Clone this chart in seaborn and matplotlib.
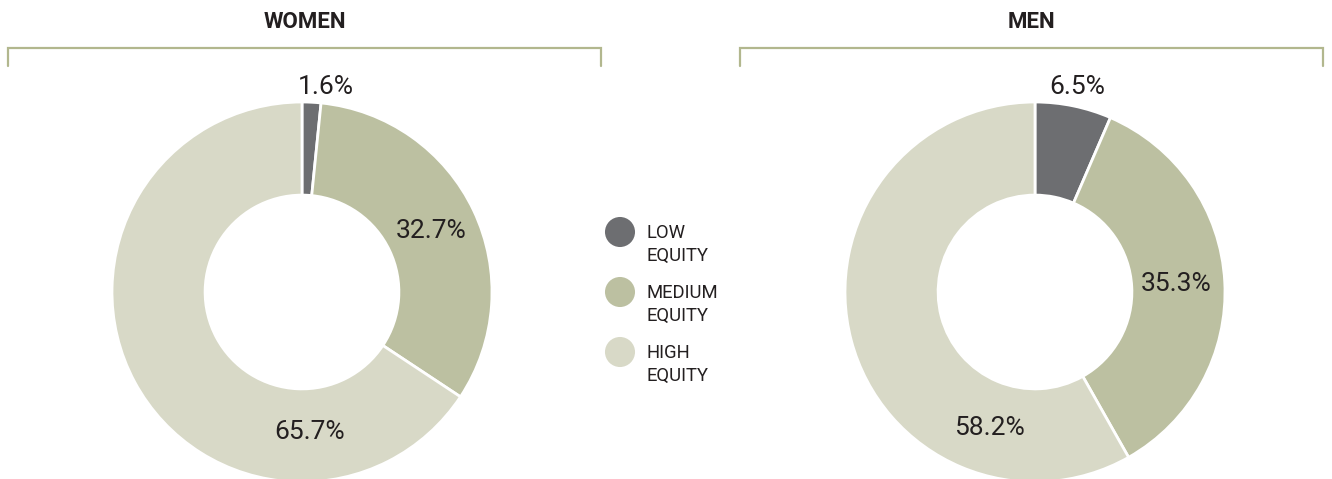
import numpy as np
import seaborn as sns
import matplotlib.pyplot as plt

# Equity shares by group (percent)
CATEGORIES = ["LOW\nEQUITY", "MEDIUM\nEQUITY", "HIGH\nEQUITY"]
GROUPS = ["WOMEN", "MEN"]
WOMEN_VALUES = [1.6, 32.7, 65.7]
MEN_VALUES = [6.5, 35.3, 58.2]
COLORS = ["#6d6e71", "#bcc0a1", "#d8d9c7"]

TEXT_COLOR = "#231f20"
BRACKET_COLOR = "#b2b78e"

if __name__ == "__main__":

    sns.set_theme(style="white")
    plt.rcParams["font.family"] = ["Roboto", "DejaVu Sans"]

    W, H = 1332, 479
    fig = plt.figure(figsize=(W / 100, H / 100), dpi=100)
    palette = sns.color_palette(COLORS)

    # overlay axes in pixel coords (y down) for titles, brackets, legend
    over = fig.add_axes([0, 0, 1, 1])
    over.set_xlim(0, W)
    over.set_ylim(H, 0)
    over.axis("off")

    # pie layout: center x, center y, radius (px), bracket span
    layout = [
        dict(cx=302, cy=292, r=190, bracket=(8, 601)),
        dict(cx=1035, cy=292, r=190, bracket=(740, 1323)),
    ]
    # label placement: (clockwise angle from top in deg or None for mid angle, radius factor)
    label_pos = [
        [(6.7, 1.085), (None, 0.75), (176.7, 0.737)],
        [(None, 1.10), (None, 0.745), (198.7, 0.756)],
    ]

    for group, values, lay, lpos in zip(GROUPS, [WOMEN_VALUES, MEN_VALUES], layout, label_pos):
        cx, cy, r = lay["cx"], lay["cy"], lay["r"]
        ax = fig.add_axes([(cx - r) / W, (H - cy - r) / H, 2 * r / W, 2 * r / H])
        ax.pie(values, colors=palette, startangle=90, counterclock=False,
               wedgeprops=dict(width=0.49, edgecolor="white", linewidth=2))
        ax.set_xlim(-1, 1)
        ax.set_ylim(-1, 1)
        ax.axis("off")

        # percent labels
        cum = np.cumsum([0] + values[:-1])
        for v, c, (ang, rf) in zip(values, cum, lpos):
            if ang is None:
                ang = (c + v / 2) / 100 * 360
            theta = np.deg2rad(90 - ang)
            ax.text(rf * np.cos(theta), rf * np.sin(theta), f"{v:.1f}%",
                    ha="center", va="center", fontsize=19, color=TEXT_COLOR,
                    clip_on=False)

        # title and bracket
        x0, x1 = lay["bracket"]
        over.text((x0 + x1) / 2, 22, group, ha="center", va="center",
                  fontsize=16, fontweight="bold", color=TEXT_COLOR)
        over.plot([x0, x0, x1, x1], [66, 47.5, 47.5, 66], color=BRACKET_COLOR,
                  lw=1.6, solid_joinstyle="miter")

    # legend
    for i, (cat, col) in enumerate(zip(CATEGORIES, palette)):
        y = 232 + i * 60
        over.scatter([620], [y], s=30 ** 2 * 0.52, color=col, edgecolor="none")
        over.text(646, y + 12.5, cat, ha="left", va="center", fontsize=13.3,
                  color=TEXT_COLOR, linespacing=1.38)

    fig.savefig("out.png", dpi=100)
